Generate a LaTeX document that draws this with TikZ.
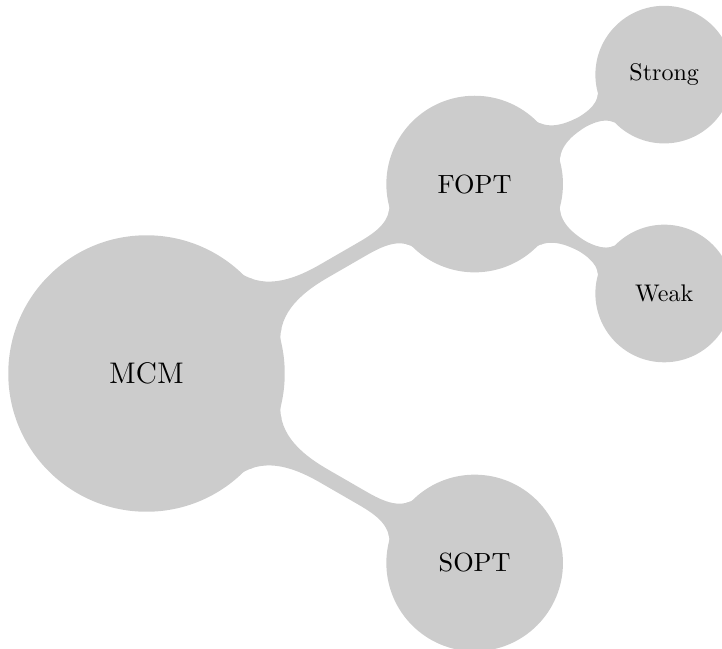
\documentclass[tikz,border=0pt]{standalone}
\usetikzlibrary{mindmap,calc}
\begin{document}
\begin{tikzpicture}[mindmap, concept color=black!20, text=black,
  rootc/.style={concept, concept color=black!20, minimum size=4cm, text width=3.5cm, align=center, font=\fontsize{12.4}{15}\selectfont},
  lvlone/.style={concept, concept color=black!20, minimum size=2.54cm, text width=2.2cm, align=center, font=\fontsize{10.95}{13.6}\selectfont},
  lvltwo/.style={concept, concept color=black!20, minimum size=1.97cm, text width=1.7cm, align=center, font=\fontsize{10}{12}\selectfont},
  link/.style={circle connection bar switch color=from (black!20) to (black!20)}]
\useasboundingbox (-2.142,-4.027) rectangle (8.414,5.461);
\node[rootc] (mcm) at (0,0) {MCM};
\node[lvlone] (fopt) at (30:5.54) {FOPT};
\node[lvlone] (sopt) at (-30:5.54) {SOPT};
\node[lvltwo] (strong) at ($(fopt)+(30:3.2)$) {Strong};
\node[lvltwo] (weak) at ($(fopt)+(-30:3.2)$) {Weak};
\path (mcm) to[link] (fopt);
\path (mcm) to[link] (sopt);
\path (fopt) to[link] (strong);
\path (fopt) to[link] (weak);
\end{tikzpicture}
\end{document}
